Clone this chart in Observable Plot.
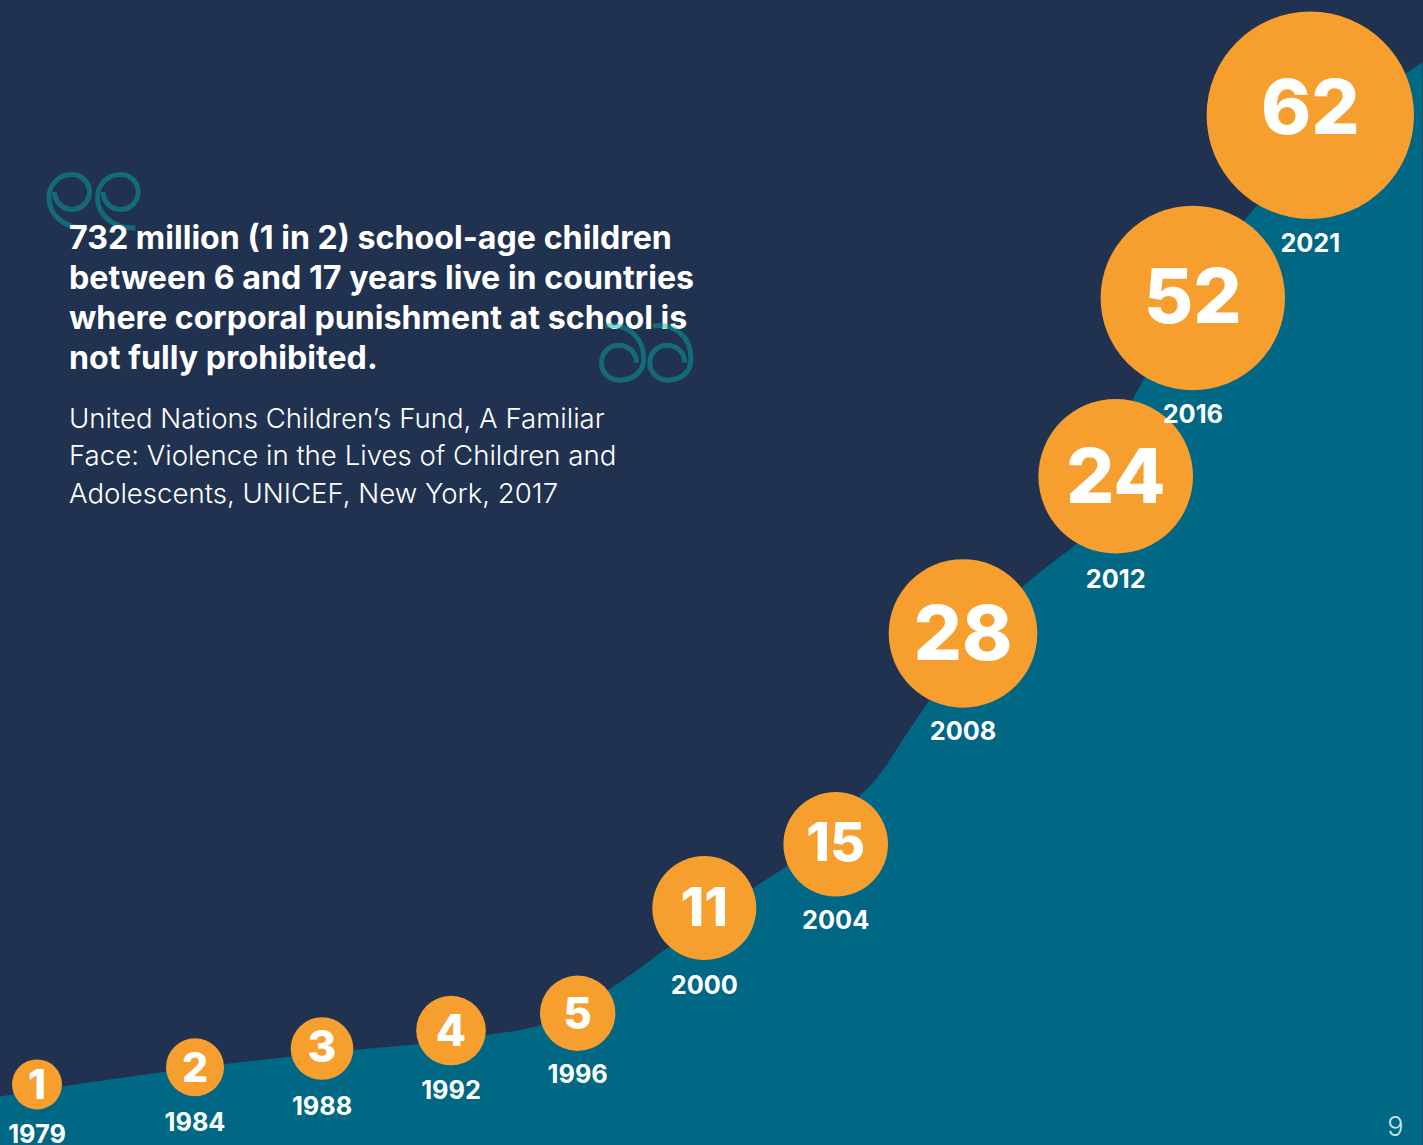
<!DOCTYPE html>
<html>
<head>
<meta charset="utf-8">
<script src="https://cdn.jsdelivr.net/npm/d3@7"></script>
<script src="https://cdn.jsdelivr.net/npm/@observablehq/plot@0.6"></script>
<style>
  html, body { margin: 0; padding: 0; background: #20324f; overflow: hidden; }
  svg { display: block; }
</style>
</head>
<body>
<div id="chart"></div>
<script>
// milestones
const years = [1979, 1984, 1988, 1992, 1996, 2000, 2004, 2008, 2012, 2016, 2021];
const counts = [1, 2, 3, 4, 5, 11, 15, 28, 24, 52, 62];
// heights, % of panel height
const circleLevels = [5.33, 6.84, 8.47, 10.04, 11.55, 20.74, 26.31, 44.72, 58.45, 74.02, 89.98];
const digitLevels  = [5.38, 6.84, 8.67, 10.13, 11.62, 20.87, 26.49, 44.74, 58.45, 74.15, 90.65];
const yearLabelLevels = [0.96, 2.00, 3.40, 4.75, 6.15, 13.96, 19.60, 36.10, 49.42, 63.80, 78.78];

// rising band
const curveYears = [1977.83, 1979.79, 1983.08, 1984.91, 1987.01, 1988.97, 1990.94, 1992.92, 1994.81, 1996.97, 1998.85,
  2001.54, 2002.51, 2004.54, 2005.23, 2005.64, 2006.02, 2006.90, 2009.57, 2010.10, 2010.54, 2010.99, 2012.90, 2013.52, 2018.22, 2018.77, 2025.11, 2025.80];
const curveLevels = [4.22, 5.10, 6.40, 7.05, 7.71, 8.30, 8.79, 9.52, 10.48, 13.54, 17.21,
  22.51, 24.37, 29.87, 31.80, 33.30, 34.95, 38.60, 48.73, 50.22, 51.35, 52.58, 65.07, 66.99, 80.79, 82.10, 93.62, 94.59];

const headline = "732 million (1 in 2) school-age children\nbetween 6 and 17 years live in countries\nwhere corporal punishment at school is\nnot fully prohibited.";
const source = "United Nations Children\u2019s Fund, A Familiar\nFace: Violence in the Lives of Children and\nAdolescents, UNICEF, New York, 2017";
const pageNumber = "9";

// scale configuration
const xDomain = [1977, 1979, 1984, 1988, 1992, 1996, 2000, 2004, 2008, 2012, 2016, 2021, 2026];
const xRange  = [-26.7, 36.5, 194.5, 321.5, 450.5, 577.2, 703.8, 835.2, 962.5, 1115.2, 1192.3, 1309.8, 1427.3];
const rDomain = [1, 2, 3, 4, 5, 11, 15, 24, 28, 52, 62];
const rRange  = [25, 29, 31.3, 34.8, 37.7, 52, 52.3, 77.3, 74.3, 92.2, 103.7];

const FONT = "Inter, 'Open Sans', sans-serif";
const C = { bg: "#20324f", area: "#006785", dot: "#f69f2f", quote: "#07a7a5", white: "#ffffff" };

const milestones = years.map((year, i) => ({
  year, count: counts[i], level: circleLevels[i], digit: digitLevels[i], label: yearLabelLevels[i]
}));
const band = curveYears.map((year, i) => ({ year, level: curveLevels[i] }));

const digitSize = d => d.count >= 24 ? 76 : d.count >= 11 ? 54 : d.count >= 3 ? 44 : 41;

function quoteMark(paths) {
  return () => {
    const g = d3.create("svg:g")
      .attr("fill", "none")
      .attr("stroke", C.quote)
      .attr("stroke-opacity", 0.48)
      .attr("stroke-width", 5);
    for (const p of paths) g.append("path").attr("d", p);
    return g.node();
  };
}
const openQuote = quoteMark([
  "M87 228C65 229 49 215 49 198C49 184 59 174.5 72 174.5A17.5 17.5 0 1 1 54.5 192",
  "M135.5 228C114 229 97.5 215 97.5 198C97.5 184 108 174.5 120.7 174.5A17.5 17.5 0 1 1 103.2 192"
]);
const closeQuote = quoteMark([
  "M605 326C625 323 643.7 335 643.7 359C643.7 372 633 380.2 619 380.2A17.5 17.5 0 1 1 636.5 362.7",
  "M652.7 326C672.7 323 691 335 691 359C691 372 681 380.2 667.3 380.2A17.5 17.5 0 1 1 684.8 362.7"
]);

const chart = Plot.plot({
  width: 1423,
  height: 1145,
  margin: 0,
  style: { background: C.bg, fontFamily: FONT },
  x: { type: "linear", domain: xDomain, range: xRange, axis: null },
  y: { domain: [0, 100], range: [1145, 0], axis: null },
  r: { type: "linear", domain: rDomain, range: rRange },
  marks: [
    Plot.areaY(band, { x: "year", y: "level", y1: 0, fill: C.area, curve: "monotone-x" }),
    openQuote,
    Plot.text([headline], {
      frameAnchor: "top-left", dx: 68.5, dy: 220, lineHeight: 40 / 32.2, lineAnchor: "top",
      textAnchor: "start", fontSize: 32.2, fontWeight: 700, fill: C.white, fontFamily: FONT
    }),
    closeQuote,
    Plot.text([source], {
      frameAnchor: "top-left", dx: 68.5, dy: 400.8, lineHeight: 37.5 / 27.6, lineAnchor: "top",
      textAnchor: "start", fontSize: 27.6, fontWeight: 350, fill: C.white, fontFamily: FONT
    }),
    Plot.dot(milestones, { x: "year", y: "level", r: "count", fill: C.dot }),
    Plot.text(milestones, {
      x: "year", y: "digit", dy: 2, text: d => String(d.count), fontSize: digitSize,
      fontWeight: 800, fill: C.white, lineAnchor: "middle", textAnchor: "middle", fontFamily: FONT
    }),
    Plot.text(milestones, {
      x: "year", y: "label", text: d => String(d.year), fontSize: 25.3,
      fontWeight: 700, fill: C.white, lineAnchor: "middle", textAnchor: "middle", fontFamily: FONT
    }),
    Plot.text([pageNumber], {
      frameAnchor: "bottom-right", dx: -20, dy: -10, lineAnchor: "bottom", textAnchor: "end",
      fontSize: 27, fontWeight: 300, fill: "#cfe3ea", fontFamily: FONT
    })
  ]
});
document.getElementById("chart").append(chart);
</script>
</body>
</html>
